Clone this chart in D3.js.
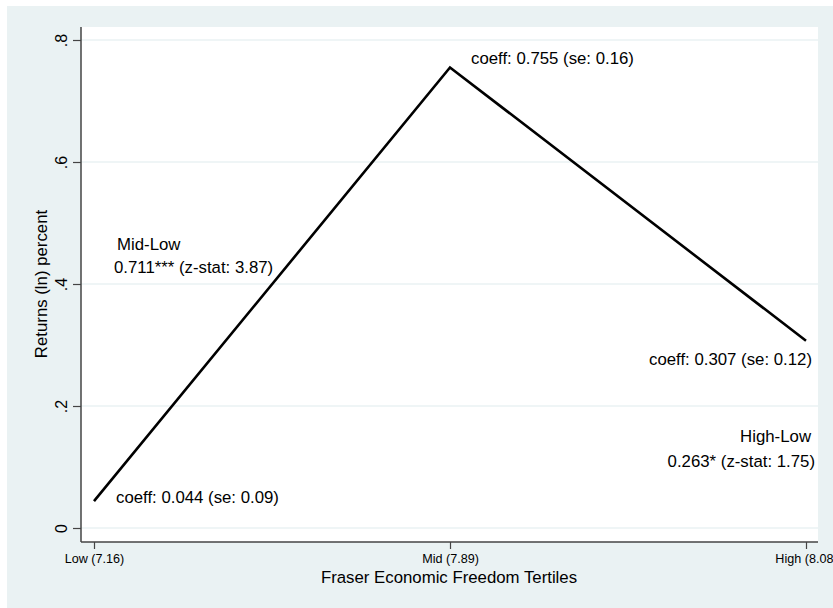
<!DOCTYPE html>
<html>
<head>
<meta charset="utf-8">
<script src="https://cdnjs.cloudflare.com/ajax/libs/d3/7.8.5/d3.min.js"></script>
<style>
  body { margin: 0; background: #fff; }
  svg text { font-family: "Liberation Sans", Arial, Helvetica, sans-serif; fill: #000; }
</style>
</head>
<body>
<svg width="833" height="608"></svg>
<script>
// tertiles and point estimates
const categories = ["Low (7.16)", "Mid (7.89)", "High (8.08)"];
const returns = [0.044, 0.755, 0.307];
const yTicks = [0, 0.2, 0.4, 0.6, 0.8];
const yTickLabels = ["0", ".2", ".4", ".6", ".8"];
const pointLabels = ["coeff: 0.044 (se: 0.09)", "coeff: 0.755 (se: 0.16)", "coeff: 0.307 (se: 0.12)"];
const diffLabels = [
  ["Mid-Low", "0.711*** (z-stat: 3.87)"],
  ["High-Low", "0.263* (z-stat: 1.75)"]
];

const svg = d3.select("svg");
const fs = 16.8;

// outer graph region
svg.append("rect")
  .attr("x", 7).attr("y", 6)
  .attr("width", 826).attr("height", 602)
  .attr("fill", "#eaf2f3");

const plot = { left: 81, right: 818, top: 27, bottom: 542 };

svg.append("rect")
  .attr("x", plot.left).attr("y", plot.top)
  .attr("width", plot.right - plot.left).attr("height", plot.bottom - plot.top)
  .attr("fill", "#fff");

const x = d3.scalePoint()
  .domain(categories)
  .range([94, 806]);

const y = d3.scaleLinear()
  .domain([0, 0.8])
  .range([528, 40]);

// gridlines
svg.append("g")
  .selectAll("line")
  .data(yTicks)
  .enter()
  .append("line")
  .attr("x1", plot.left).attr("x2", plot.right)
  .attr("y1", d => y(d)).attr("y2", d => y(d))
  .attr("stroke", "#eaf2f3")
  .attr("stroke-width", 1.5);

// y axis
const yAxis = svg.append("g")
  .attr("transform", `translate(${plot.left},0)`)
  .call(d3.axisLeft(y).tickValues(yTicks).tickFormat((d, i) => yTickLabels[i]).tickSize(8).tickSizeOuter(0));
yAxis.select(".domain").remove();
yAxis.append("line")
  .attr("x1", 0).attr("x2", 0)
  .attr("y1", plot.top).attr("y2", plot.bottom)
  .attr("stroke", "#444").attr("stroke-width", 1.5);
yAxis.selectAll(".tick line").attr("stroke", "#444").attr("stroke-width", 1.2);
yAxis.selectAll(".tick text")
  .attr("font-size", 16)
  .attr("text-anchor", "middle")
  .attr("x", null).attr("dy", null)
  .attr("transform", "translate(-14,0) rotate(-90)")
  .attr("y", 0);

// x axis
const xAxis = svg.append("g")
  .attr("transform", `translate(0,${plot.bottom})`)
  .call(d3.axisBottom(x).tickSize(7).tickSizeOuter(0));
xAxis.select(".domain").remove();
xAxis.append("line")
  .attr("x1", plot.left).attr("x2", plot.right)
  .attr("y1", 0).attr("y2", 0)
  .attr("stroke", "#444").attr("stroke-width", 1.5);
xAxis.selectAll(".tick line").attr("stroke", "#444").attr("stroke-width", 1.2);
xAxis.selectAll(".tick text")
  .attr("font-size", 12.6)
  .attr("y", 21)
  .attr("dy", null);

// axis titles
svg.append("text")
  .attr("x", 449).attr("y", 583)
  .attr("text-anchor", "middle")
  .attr("font-size", fs)
  .text("Fraser Economic Freedom Tertiles");

svg.append("text")
  .attr("transform", "translate(47,284) rotate(-90)")
  .attr("text-anchor", "middle")
  .attr("font-size", fs)
  .text("Returns (ln) percent");

// the line
const line = d3.line()
  .x((d, i) => x(categories[i]))
  .y(d => y(d));

svg.append("path")
  .datum(returns)
  .attr("d", line)
  .attr("fill", "none")
  .attr("stroke", "#000")
  .attr("stroke-width", 2.6);

// point labels
const labelPos = [
  { dx: 22, dy: 2, anchor: "start" },
  { dx: 21, dy: -3, anchor: "start" },
  { dx: 6, dy: 24, anchor: "end" }
];
svg.append("g")
  .selectAll("text")
  .data(pointLabels)
  .enter()
  .append("text")
  .attr("x", (d, i) => x(categories[i]) + labelPos[i].dx)
  .attr("y", (d, i) => y(returns[i]) + labelPos[i].dy)
  .attr("text-anchor", (d, i) => labelPos[i].anchor)
  .attr("font-size", fs)
  .text(d => d);

// difference labels
const midLow = svg.append("g").attr("font-size", fs);
midLow.append("text").attr("x", 117).attr("y", 250).text(diffLabels[0][0]);
midLow.append("text").attr("x", 114).attr("y", 273).text(diffLabels[0][1]);

const highLow = svg.append("g").attr("font-size", fs).attr("text-anchor", "end");
highLow.append("text").attr("x", 811).attr("y", 442).text(diffLabels[1][0]);
highLow.append("text").attr("x", 815).attr("y", 467).text(diffLabels[1][1]);
</script>
</body>
</html>
